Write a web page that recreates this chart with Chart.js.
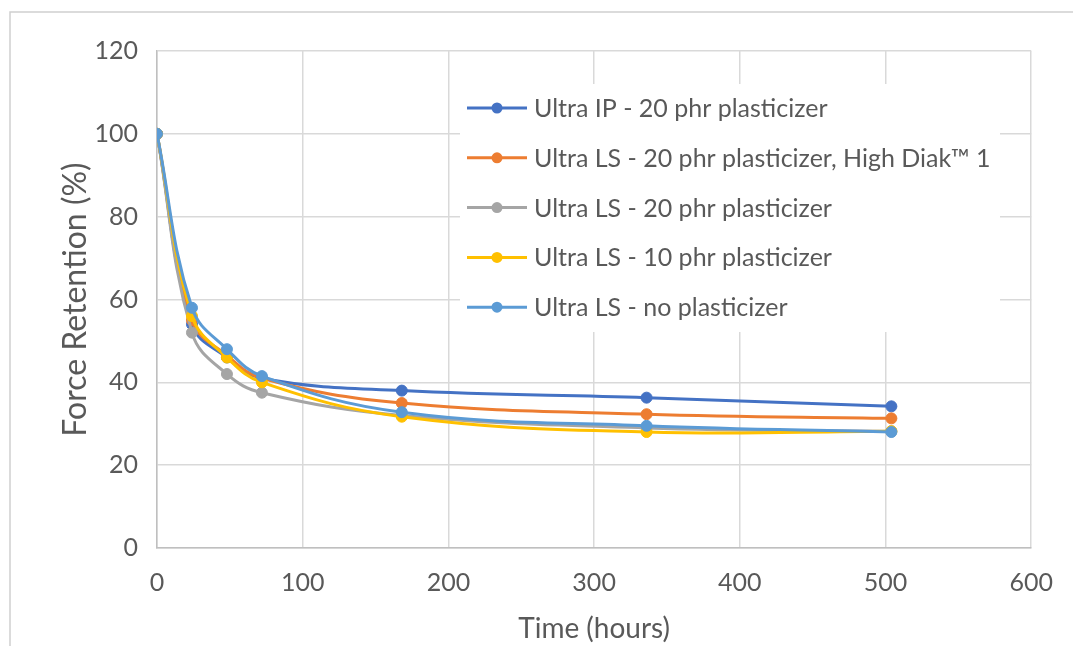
<!DOCTYPE html>
<html>
<head>
<meta charset="utf-8">
<script src="https://cdn.jsdelivr.net/npm/chart.js@4"></script>
<style>
  html, body { margin: 0; padding: 0; background: #fff; }
  #wrap { position: relative; width: 1073px; height: 646px; }
</style>
</head>
<body>
<div id="wrap"><canvas id="myChart" width="1073" height="646"></canvas></div>
<script>
// --- Data ---
const hours = [0, 24, 48, 72, 168, 336, 504];
const seriesNames = [
    'Ultra IP - 20 phr plasticizer',
    'Ultra LS - 20 phr plasticizer, High Diak\u2122 1',
    'Ultra LS - 20 phr plasticizer',
    'Ultra LS - 10 phr plasticizer',
    'Ultra LS - no plasticizer'
];
const ultraIP20 = [100, 54, 46, 41, 38, 36.3, 34.2];
const ultraLS20Diak = [100, 55, 46.5, 41, 35, 32.3, 31.3];
const ultraLS20 = [100, 52, 42, 37.5, 32, 29, 28.2];
const ultraLS10 = [100, 56, 46, 40, 31.7, 28, 28.2];
const ultraLSNone = [100, 58, 48, 41.5, 32.8, 29.5, 28];
const xTicks = [0, 100, 200, 300, 400, 500, 600];
const yTicks = [0, 20, 40, 60, 80, 100, 120];

const colors = ['#4472C4', '#ED7D31', '#A5A5A5', '#FFC000', '#5B9BD5'];
const allSeries = [ultraIP20, ultraLS20Diak, ultraLS20, ultraLS10, ultraLSNone];
const FONT = 'Lato, "Open Sans", sans-serif';
const TEXT = '#595959';

const datasets = allSeries.map((vals, i) => ({
    label: seriesNames[i],
    data: vals.map((v, j) => ({ x: hours[j], y: v })),
    borderColor: colors[i],
    backgroundColor: colors[i],
    borderWidth: 3,
    pointRadius: 5.5,
    pointBorderWidth: 1,
    tension: 0.4,
    order: 4 - i // last series drawn on top, like Excel
}));

// frame around the chart area (Excel chart border) + white background
const framePlugin = {
    id: 'frame',
    beforeDraw(chart) {
        const c = chart.ctx;
        c.save();
        c.fillStyle = '#fff';
        c.fillRect(0, 0, chart.width, chart.height);
        c.strokeStyle = '#d0d0d0';
        c.lineWidth = 1.5;
        c.beginPath();
        c.moveTo(10, chart.height);
        c.lineTo(10, 12);
        c.lineTo(chart.width, 12);
        c.stroke();
        c.restore();
    }
};

// legend drawn inside the plot, on a white box
const legendPlugin = {
    id: 'insideLegend',
    afterDraw(chart) {
        const c = chart.ctx;
        c.save();
        c.fillStyle = '#fff';
        c.fillRect(460, 84, 540, 248);
        c.font = '25px ' + FONT;
        c.textBaseline = 'middle';
        seriesNames.forEach((name, i) => {
            const y = 108 + i * 49.8;
            c.strokeStyle = colors[i];
            c.lineWidth = 3;
            c.beginPath();
            c.moveTo(467, y);
            c.lineTo(527, y);
            c.stroke();
            c.fillStyle = colors[i];
            c.beginPath();
            c.arc(497, y, 5.5, 0, Math.PI * 2);
            c.fill();
            c.fillStyle = TEXT;
            c.fillText(name, 534, y + 1);
        });
        c.restore();
    }
};

const ctx = document.getElementById('myChart').getContext('2d');
new Chart(ctx, {
    type: 'line',
    data: { datasets: datasets },
    plugins: [framePlugin, legendPlugin],
    options: {
        responsive: false,
        animation: false,
        layout: { padding: { left: 10, right: 40, top: 51, bottom: 0 } },
        plugins: { legend: { display: false }, tooltip: { enabled: false } },
        scales: {
            x: {
                type: 'linear',
                min: 0, max: 600,
                afterBuildTicks: s => { s.ticks = xTicks.map(v => ({ value: v })); },
                afterFit: s => { s.height = 98; },
                grid: { color: '#d9d9d9', lineWidth: 1.5, drawTicks: false },
                border: { color: '#bfbfbf', width: 1.5 },
                ticks: { color: TEXT, font: { family: FONT, size: 25 }, padding: 20, maxRotation: 0 },
                title: { display: true, text: 'Time (hours)', color: TEXT, font: { family: FONT, size: 28 }, padding: { top: 0, bottom: 0 } }
            },
            y: {
                min: 0, max: 120,
                afterBuildTicks: s => { s.ticks = yTicks.map(v => ({ value: v })); },
                afterFit: s => { s.width = 147; },
                grid: { color: '#d9d9d9', lineWidth: 1.5, drawTicks: false },
                border: { color: '#bfbfbf', width: 1.5 },
                ticks: { color: TEXT, font: { family: FONT, size: 25 }, padding: 19 },
                title: { display: true, text: 'Force Retention (%)', color: TEXT, font: { family: FONT, size: 32 }, padding: { top: 46, bottom: 0 } }
            }
        }
    }
});
</script>
</body>
</html>
